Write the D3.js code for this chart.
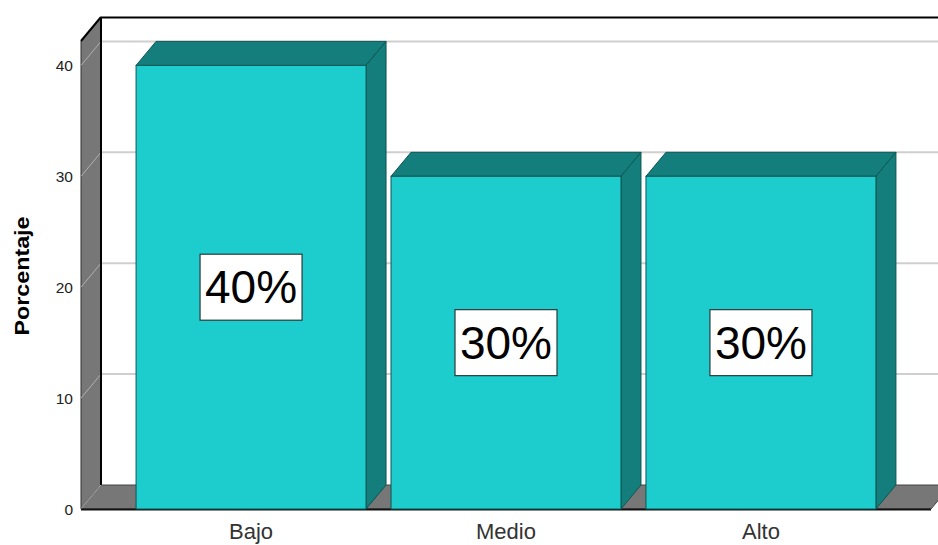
<!DOCTYPE html>
<html>
<head>
<meta charset="utf-8">
<script src="https://cdn.jsdelivr.net/npm/d3@7/dist/d3.min.js"></script>
<style>
  html, body { margin: 0; padding: 0; background: #fff; }
  svg { display: block; font-family: "Liberation Sans", Arial, sans-serif; }
</style>
</head>
<body>
<svg id="chart" width="938" height="545"></svg>
<script>
// Data
const categories = ["Bajo", "Medio", "Alto"];
const percentages = [40, 30, 30];
const yTicks = [0, 10, 20, 30, 40];

// Layout of the 3D frame
const W = 938, H = 545;
const frontLeft = 81, frontRight = 931;
const frontBottom = 509, frontTop = 41;
const depthX = 20, depthY = 24;

const svg = d3.select("#chart");

const x = d3.scaleBand()
  .domain(categories)
  .range([frontLeft, frontRight])
  .paddingInner(0.098)
  .paddingOuter(0.216);

const y = d3.scaleLinear()
  .domain([0, 42.2])
  .range([frontBottom, frontTop]);

const pts = a => a.map(p => p.join(",")).join(" ");

// Left wall
svg.append("polygon")
  .attr("points", pts([[frontLeft, frontTop], [frontLeft + depthX, frontTop - depthY],
    [frontLeft + depthX, frontBottom - depthY], [frontLeft, frontBottom]]))
  .attr("fill", "#777777")
  .attr("stroke", "#333")
  .attr("stroke-width", 1);

// Gridlines: back wall and diagonal across the left wall
const grid = svg.append("g");
yTicks.forEach(t => {
  const yy = y(t);
  if (t > 0) {
    grid.append("line")
      .attr("x1", frontLeft + depthX).attr("x2", W)
      .attr("y1", yy - depthY).attr("y2", yy - depthY)
      .attr("stroke", "#cfcfcf").attr("stroke-width", 2);
  }
  grid.append("line")
    .attr("x1", frontLeft).attr("y1", yy)
    .attr("x2", frontLeft + depthX).attr("y2", yy - depthY)
    .attr("stroke", "#b0b0b0").attr("stroke-width", 1);
});

// Back wall edges
svg.append("line")
  .attr("x1", frontLeft + depthX).attr("x2", W)
  .attr("y1", frontTop - depthY + 0.5).attr("y2", frontTop - depthY + 0.5)
  .attr("stroke", "#000").attr("stroke-width", 2);
svg.append("line")
  .attr("x1", frontLeft + depthX).attr("x2", frontLeft + depthX)
  .attr("y1", frontTop - depthY).attr("y2", frontBottom - depthY)
  .attr("stroke", "#000").attr("stroke-width", 2);
svg.append("line")
  .attr("x1", frontLeft).attr("y1", frontTop)
  .attr("x2", frontLeft + depthX).attr("y2", frontTop - depthY)
  .attr("stroke", "#000").attr("stroke-width", 2);

// Floor
svg.append("polygon")
  .attr("points", pts([[frontLeft, frontBottom], [frontLeft + depthX, frontBottom - depthY],
    [frontRight + depthX, frontBottom - depthY], [frontRight, frontBottom]]))
  .attr("fill", "#777777")
  .attr("stroke", "#444")
  .attr("stroke-width", 1);
svg.append("line")
  .attr("x1", frontLeft + depthX).attr("y1", frontBottom - depthY)
  .attr("x2", frontLeft).attr("y2", frontBottom)
  .attr("stroke", "#aaa").attr("stroke-width", 1);
svg.append("line")
  .attr("x1", frontLeft).attr("x2", frontRight)
  .attr("y1", frontBottom + 0.5).attr("y2", frontBottom + 0.5)
  .attr("stroke", "#111").attr("stroke-width", 2);

// Bars
const front = "#1dcdcd", shade = "#137e7b", edge = "#0d5654";
const bars = svg.append("g").selectAll("g.bar")
  .data(categories.map((c, i) => ({ c, v: percentages[i] })))
  .join("g").attr("class", "bar");

bars.each(function (d) {
  const g = d3.select(this);
  const x0 = x(d.c), x1 = x(d.c) + x.bandwidth();
  const yt = y(d.v), yb = y(0);
  // top face
  g.append("polygon")
    .attr("points", pts([[x0, yt], [x0 + depthX, yt - depthY], [x1 + depthX, yt - depthY], [x1, yt]]))
    .attr("fill", shade).attr("stroke", edge).attr("stroke-width", 1);
  // side face
  g.append("polygon")
    .attr("points", pts([[x1, yt], [x1 + depthX, yt - depthY], [x1 + depthX, yb - depthY], [x1, yb]]))
    .attr("fill", shade).attr("stroke", edge).attr("stroke-width", 1);
  // front face
  g.append("rect")
    .attr("x", x0).attr("y", yt)
    .attr("width", x1 - x0).attr("height", yb - yt)
    .attr("fill", front).attr("stroke", edge).attr("stroke-width", 1);
});

// Value labels at the middle of each bar
bars.each(function (d) {
  const g = d3.select(this);
  const cx = x(d.c) + x.bandwidth() / 2;
  const cy = y(d.v / 2);
  g.append("rect")
    .attr("x", cx - 51).attr("y", cy - 33)
    .attr("width", 102).attr("height", 66)
    .attr("fill", "#fff").attr("stroke", "#2a3a3a").attr("stroke-width", 1.2);
  g.append("text")
    .attr("x", cx).attr("y", cy)
    .attr("text-anchor", "middle")
    .attr("dominant-baseline", "central")
    .attr("font-size", 46)
    .attr("fill", "#000")
    .text(d.v + "%");
});

// Y tick labels
svg.append("g").selectAll("text")
  .data(yTicks)
  .join("text")
  .attr("x", 73).attr("y", d => y(d))
  .attr("text-anchor", "end")
  .attr("dominant-baseline", "central")
  .attr("font-size", 15.5)
  .attr("fill", "#222")
  .text(d => d);

// X category labels
svg.append("g").selectAll("text")
  .data(categories)
  .join("text")
  .attr("x", d => x(d) + x.bandwidth() / 2)
  .attr("y", 539)
  .attr("text-anchor", "middle")
  .attr("font-size", 22)
  .attr("fill", "#333")
  .text(d => d);

// Y axis title
svg.append("text")
  .attr("transform", "translate(29,276) rotate(-90)")
  .attr("text-anchor", "middle")
  .attr("font-size", 21)
  .attr("font-weight", "bold")
  .attr("textLength", 119)
  .attr("lengthAdjust", "spacingAndGlyphs")
  .attr("fill", "#000")
  .text("Porcentaje");
</script>
</body>
</html>
